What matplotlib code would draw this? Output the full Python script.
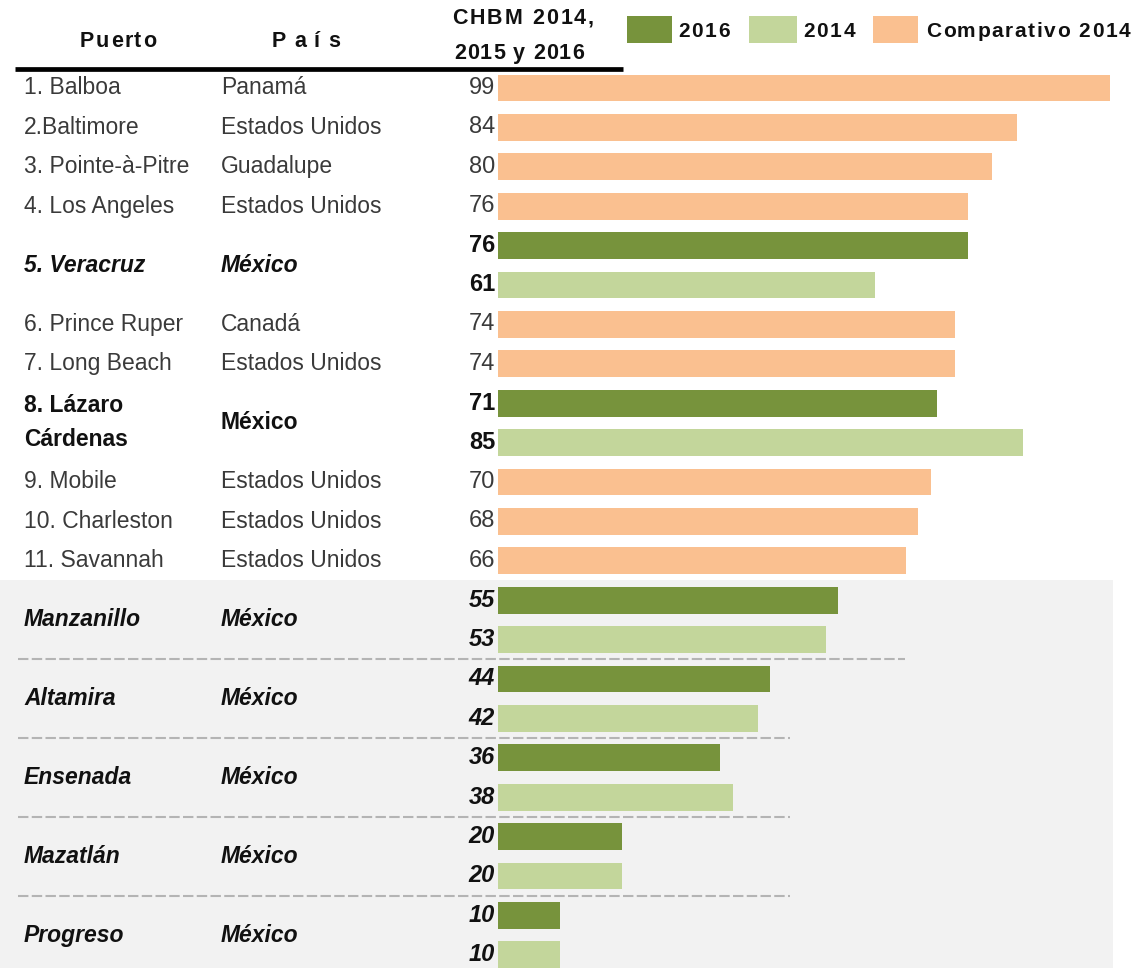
import matplotlib
matplotlib.use("Agg")
import matplotlib.pyplot as plt
from matplotlib.patches import Rectangle
from matplotlib.font_manager import FontProperties, findfont, get_font
import numpy as np

plt.rcParams['font.family'] = ['Liberation Sans', 'DejaVu Sans']

# Ports, countries and CHBM values
puertos = ["1. Balboa", "2.Baltimore", "3. Pointe-à-Pitre", "4. Los Angeles",
           "5. Veracruz", "6. Prince Ruper", "7. Long Beach", "8. Lázaro\nCárdenas",
           "9. Mobile", "10. Charleston", "11. Savannah", "Manzanillo",
           "Altamira", "Ensenada", "Mazatlán", "Progreso"]
paises = ["Panamá", "Estados Unidos", "Guadalupe", "Estados Unidos",
          "México", "Canadá", "Estados Unidos", "México",
          "Estados Unidos", "Estados Unidos", "Estados Unidos", "México",
          "México", "México", "México", "México"]
comparativo_2014 = [99, 84, 80, 76, np.nan, 74, 74, np.nan, 70, 68, 66,
                    np.nan, np.nan, np.nan, np.nan, np.nan]
chbm_2016 = [np.nan, np.nan, np.nan, np.nan, 76, np.nan, np.nan, 71,
             np.nan, np.nan, np.nan, 55, 44, 36, 20, 10]
chbm_2014 = [np.nan, np.nan, np.nan, np.nan, 61, np.nan, np.nan, 85,
             np.nan, np.nan, np.nan, 53, 42, 38, 20, 10]
legend_labels = ["2016", "2014", "Comparativo 2014"]
header_labels = ["Puerto", "País", "CHBM 2014,", "2015 y 2016"]

C2016 = "#77933c"
C2014 = "#c3d69b"
CCOMP = "#fac090"
TXT = "#111111"
GRYTXT = "#3a3a3a"


def estilo(i):
    """Text style per port: (label style, label weight, value style, value weight)."""
    if paises[i] != "México":
        return "normal", "normal", "normal", "normal"
    if puertos[i].startswith("5."):
        return "italic", "bold", "normal", "bold"
    if puertos[i].startswith("8."):
        return "normal", "bold", "normal", "bold"
    return "italic", "bold", "italic", "bold"


W, H = 1142, 968
DPI = 100
fig = plt.figure(figsize=(W / DPI, H / DPI), dpi=DPI)
ax = fig.add_axes([0, 0, 1, 1])
ax.set_axis_off()

# pixel geometry -> data units
x0_px, px_per_unit = 498.0, 6.18
y0_px, row_px = 88.0, 39.4
ax.set_xlim(-x0_px / px_per_unit, (W - x0_px) / px_per_unit)
ax.set_ylim((H - y0_px) / row_px, -y0_px / row_px)


def xu(px):
    return (px - x0_px) / px_per_unit


def yu(px):
    return (px - y0_px) / row_px


def tracked(x_left, y_base, s, size, width, weight="bold"):
    """Draw letter-spaced text so that it spans about `width` pixels."""
    fp = FontProperties(family="Liberation Sans", weight=weight, size=size)
    font = get_font(findfont(fp))
    font.set_size(size, DPI)
    adv = [font.load_char(ord(c)).linearHoriAdvance / 65536 for c in s]
    extra = max((width - sum(adv)) / max(len(s) - 1, 1), 0)
    x = x_left
    for c, a in zip(s, adv):
        ax.text(xu(x), yu(y_base), c, ha="left", va="baseline",
                fontproperties=fp, color=TXT, zorder=5)
        x += a + extra


bar_h = 0.685
fs = 16.5
fs_val = 17

row = 0
mex_start = None
grupos = []
for i in range(len(puertos)):
    ls, lw, vs, vw = estilo(i)
    vx = xu(495)
    if not np.isnan(comparativo_2014[i]):
        ycen = row
        ax.barh(row, comparativo_2014[i], height=bar_h, color=CCOMP, zorder=3)
        ax.text(vx, row, f"{comparativo_2014[i]:.0f}", ha="right", va="center",
                fontsize=fs_val, color=GRYTXT, style=vs, weight=vw, zorder=4)
        row += 1
    else:
        ax.barh(row, chbm_2016[i], height=bar_h, color=C2016, zorder=3)
        ax.barh(row + 1, chbm_2014[i], height=bar_h, color=C2014, zorder=3)
        ax.text(vx, row, f"{chbm_2016[i]:.0f}", ha="right", va="center",
                fontsize=fs_val, color=TXT, style=vs, weight=vw, zorder=4)
        ax.text(vx, row + 1, f"{chbm_2014[i]:.0f}", ha="right", va="center",
                fontsize=fs_val, color=TXT, style=vs, weight=vw, zorder=4)
        ycen = row + 0.5
        if puertos[i][0].isalpha():
            if mex_start is None:
                mex_start = row
            grupos.append(row)
        row += 2
    col = TXT if paises[i] == "México" else GRYTXT
    lineas = puertos[i].split("\n")
    if len(lineas) == 1:
        ax.text(xu(24), ycen, lineas[0], ha="left", va="center", fontsize=fs,
                color=col, style=ls, weight=lw, zorder=4)
    else:
        for k, linea in enumerate(lineas):
            ax.text(xu(24), ycen + (k - 0.5) * 0.86, linea, ha="left", va="center",
                    fontsize=fs, color=col, style=ls, weight=lw, zorder=4)
    ax.text(xu(221), ycen, paises[i], ha="left", va="center", fontsize=fs,
            color=col, style=ls, weight=lw, zorder=4)

# shaded block behind the remaining Mexican ports
ax.add_patch(Rectangle((xu(0), mex_start - 0.5), xu(1113) - xu(0), row - mex_start + 1,
                       facecolor="#f2f2f2", edgecolor="none", zorder=0))

# dashed separators between Mexican port groups
for k, g in enumerate(grupos[1:]):
    xend = xu(905) if k == 0 else xu(790)
    ax.plot([xu(18), xend], [g - 0.5, g - 0.5], color="#b4b4b4", lw=1.5,
            dashes=(5, 1.6), zorder=2)

# header
tracked(80, 47, header_labels[0], 15.5, 76)
tracked(272, 47, header_labels[1], 15.5, 68)
tracked(452, 24, header_labels[2], 15.5, 142)
tracked(454, 59, header_labels[3], 15.5, 130)
ax.plot([xu(15), xu(623)], [yu(69.5), yu(69.5)], color="black", lw=3.4,
        solid_capstyle="butt", zorder=5)

# legend
for (xa, xb, xt, wt), lab, c in zip([(627, 672, 678, 52), (749, 797, 803, 52),
                                     (873, 918, 926, 204)],
                                    legend_labels, [C2016, C2014, CCOMP]):
    ax.add_patch(Rectangle((xu(xa), yu(16.5)), xu(xb) - xu(xa), yu(43) - yu(16.5),
                           facecolor=c, edgecolor="none", zorder=3))
    tracked(xt, 37, lab, 15, wt)

fig.savefig("out.png", dpi=DPI, facecolor="white")
